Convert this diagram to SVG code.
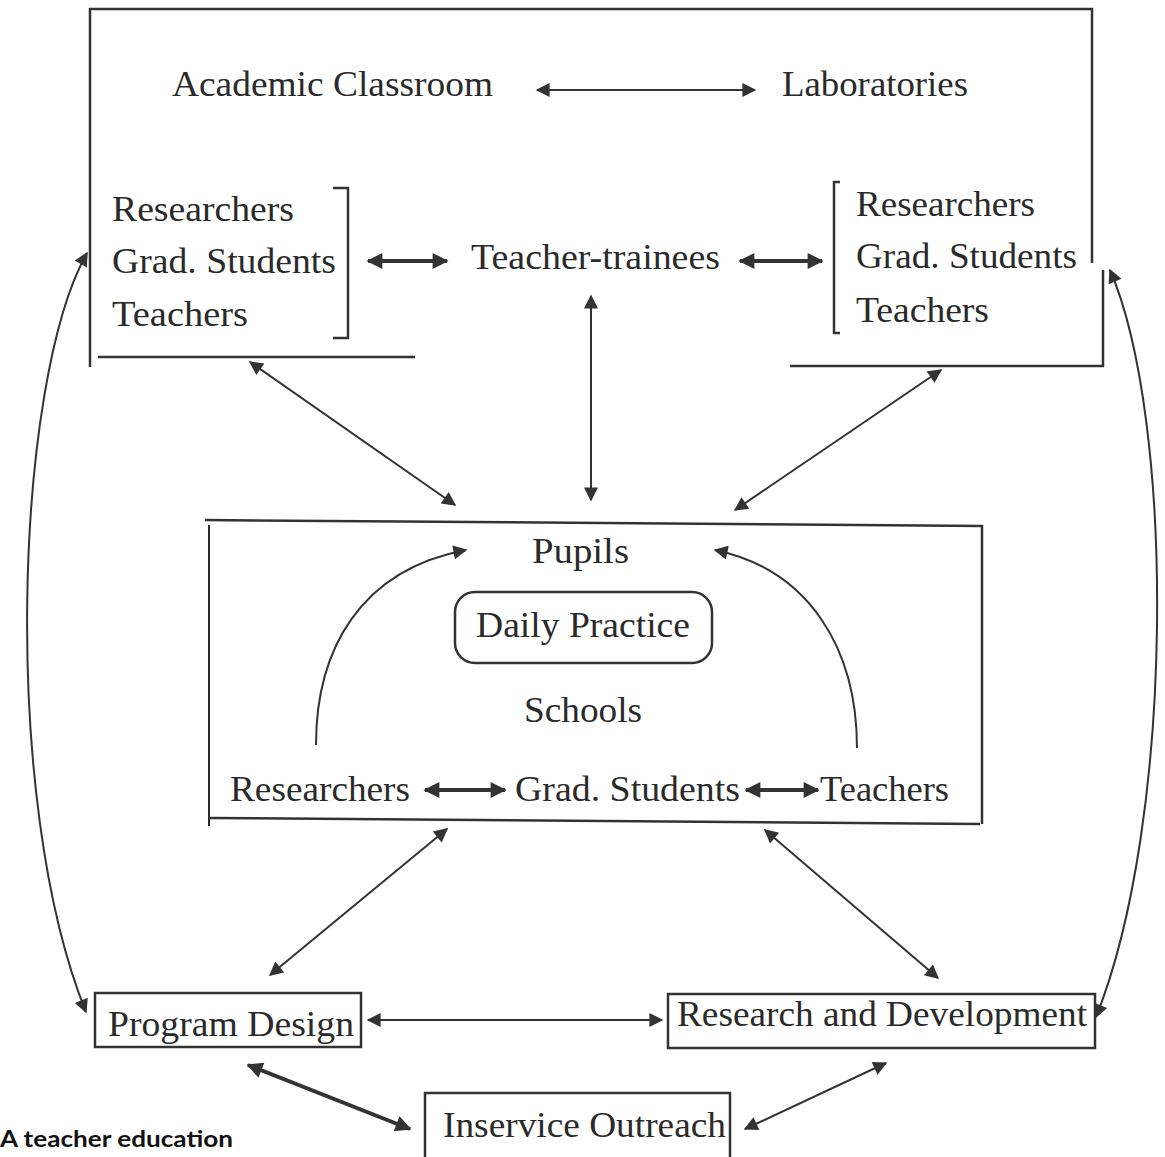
<svg xmlns="http://www.w3.org/2000/svg" width="1165" height="1157" viewBox="0 0 1165 1157">
<style>
.t{font-family:"Liberation Serif","Times New Roman",serif;font-size:35px;fill:#2a2a2a}
.ln{stroke:#2a2a2a;stroke-width:2;fill:none}
.fr{stroke:#333;stroke-width:2.5;fill:none}
.c{stroke:#333;stroke-width:2;fill:none}
.ck{stroke:#333;stroke-width:4;fill:none}
.cap{font-family:Lato,"Open Sans",sans-serif;font-weight:bold;font-size:22px;fill:#111}
</style>
<defs>
<marker id="ahs" viewBox="0 0 10 10" refX="9" refY="5" markerWidth="20" markerHeight="14" markerUnits="userSpaceOnUse" orient="auto-start-reverse">
<path d="M0,0 L10,5 L0,10 z" fill="#333"/>
</marker>
<marker id="ahb" viewBox="0 0 10 10" refX="9" refY="5" markerWidth="24" markerHeight="16" markerUnits="userSpaceOnUse" orient="auto-start-reverse">
<path d="M0,0 L10,5 L0,10 z" fill="#333"/>
</marker>
</defs>
<rect width="1165" height="1157" fill="#fff"/>

<g id="university">
<path class="fr" d="M90,367 V9 H1092 V263"/>
<path class="fr" d="M98,357 H415"/>
<path class="fr" d="M1103,270 V366 H790"/>
<text class="t" x="172" y="96" textLength="321" lengthAdjust="spacingAndGlyphs">Academic Classroom</text>
<text class="t" x="782" y="96" textLength="186" lengthAdjust="spacingAndGlyphs">Laboratories</text>
</g>

<g id="left-group">
<path class="fr" d="M333,188 H348 V338 H333"/>
<text class="t" x="112" y="221" textLength="182" lengthAdjust="spacingAndGlyphs">Researchers</text>
<text class="t" x="112" y="273" textLength="224" lengthAdjust="spacingAndGlyphs">Grad. Students</text>
<text class="t" x="112" y="326" textLength="136" lengthAdjust="spacingAndGlyphs">Teachers</text>
</g>

<g id="teacher-trainees">
<text class="t" x="471" y="269" textLength="249" lengthAdjust="spacingAndGlyphs">Teacher-trainees</text>
</g>

<g id="right-group">
<path class="fr" d="M840,182 H834 V333 H840"/>
<text class="t" x="856" y="216" textLength="179" lengthAdjust="spacingAndGlyphs">Researchers</text>
<text class="t" x="856" y="268" textLength="221" lengthAdjust="spacingAndGlyphs">Grad. Students</text>
<text class="t" x="856" y="322" textLength="133" lengthAdjust="spacingAndGlyphs">Teachers</text>
</g>

<g id="schools">
<path class="fr" d="M205,520 L982,526 V824"/>
<path class="fr" d="M210,818 L980,824"/>
<path class="ln" d="M209,525 V826"/>
<text class="t" x="532" y="563" textLength="97" lengthAdjust="spacingAndGlyphs">Pupils</text>
<text class="t" x="524" y="722" textLength="118" lengthAdjust="spacingAndGlyphs">Schools</text>
<text class="t" x="230" y="801" textLength="180" lengthAdjust="spacingAndGlyphs">Researchers</text>
<text class="t" x="515" y="801" textLength="225" lengthAdjust="spacingAndGlyphs">Grad. Students</text>
<text class="t" x="820" y="801" textLength="129" lengthAdjust="spacingAndGlyphs">Teachers</text>
</g>

<g id="daily-practice">
<rect x="455" y="592" width="257" height="71" rx="20" class="fr"/>
<text class="t" x="476" y="637" textLength="214" lengthAdjust="spacingAndGlyphs">Daily Practice</text>
</g>

<g id="program-design">
<rect x="95" y="993" width="266" height="54" class="fr"/>
<text class="t" x="108" y="1036" textLength="246" lengthAdjust="spacingAndGlyphs">Program Design</text>
</g>

<g id="research-development">
<rect x="668" y="994" width="427" height="54" class="fr"/>
<text class="t" x="677" y="1026" textLength="410" lengthAdjust="spacingAndGlyphs">Research and Development</text>
</g>

<g id="inservice-outreach">
<rect x="425" y="1093" width="305" height="66" class="fr"/>
<text class="t" x="443" y="1137" textLength="283" lengthAdjust="spacingAndGlyphs">Inservice Outreach</text>
</g>

<text class="cap" x="0" y="1147" textLength="233" lengthAdjust="spacingAndGlyphs">A teacher education</text>

<g id="connectors">
<line class="c" x1="537" y1="90" x2="755" y2="90" marker-start="url(#ahs)" marker-end="url(#ahs)"/>
<line class="ck" x1="368" y1="261" x2="447" y2="261" marker-start="url(#ahb)" marker-end="url(#ahb)"/>
<line class="ck" x1="740" y1="261" x2="822" y2="261" marker-start="url(#ahb)" marker-end="url(#ahb)"/>
<line class="c" x1="591" y1="296" x2="591" y2="500" marker-start="url(#ahs)" marker-end="url(#ahs)"/>
<line class="c" x1="250" y1="362" x2="455" y2="505" marker-start="url(#ahs)" marker-end="url(#ahs)"/>
<line class="c" x1="941" y1="370" x2="735" y2="510" marker-start="url(#ahs)" marker-end="url(#ahs)"/>
<path class="c" d="M316,745 C316,650 360,570 466,550" marker-end="url(#ahs)"/>
<path class="c" d="M857,748 C857,650 810,570 715,550" marker-end="url(#ahs)"/>
<line class="ck" x1="425" y1="790" x2="505" y2="790" marker-start="url(#ahb)" marker-end="url(#ahb)"/>
<line class="ck" x1="746" y1="790" x2="818" y2="790" marker-start="url(#ahb)" marker-end="url(#ahb)"/>
<line class="c" x1="447" y1="829" x2="270" y2="975" marker-start="url(#ahs)" marker-end="url(#ahs)"/>
<line class="c" x1="765" y1="830" x2="938" y2="978" marker-start="url(#ahs)" marker-end="url(#ahs)"/>
<line class="c" x1="368" y1="1020" x2="662" y2="1020" marker-start="url(#ahs)" marker-end="url(#ahs)"/>
<line class="ck" x1="248" y1="1065" x2="410" y2="1129" marker-start="url(#ahb)" marker-end="url(#ahb)"/>
<line class="c" x1="745" y1="1129" x2="886" y2="1063" marker-start="url(#ahs)" marker-end="url(#ahs)"/>
<path class="c" d="M87,253 C15,380 0,800 86,1012" marker-start="url(#ahs)" marker-end="url(#ahs)"/>
<path class="c" d="M1110,270 C1175,420 1175,820 1096,1017" marker-start="url(#ahs)" marker-end="url(#ahs)"/>
</g>
</svg>
